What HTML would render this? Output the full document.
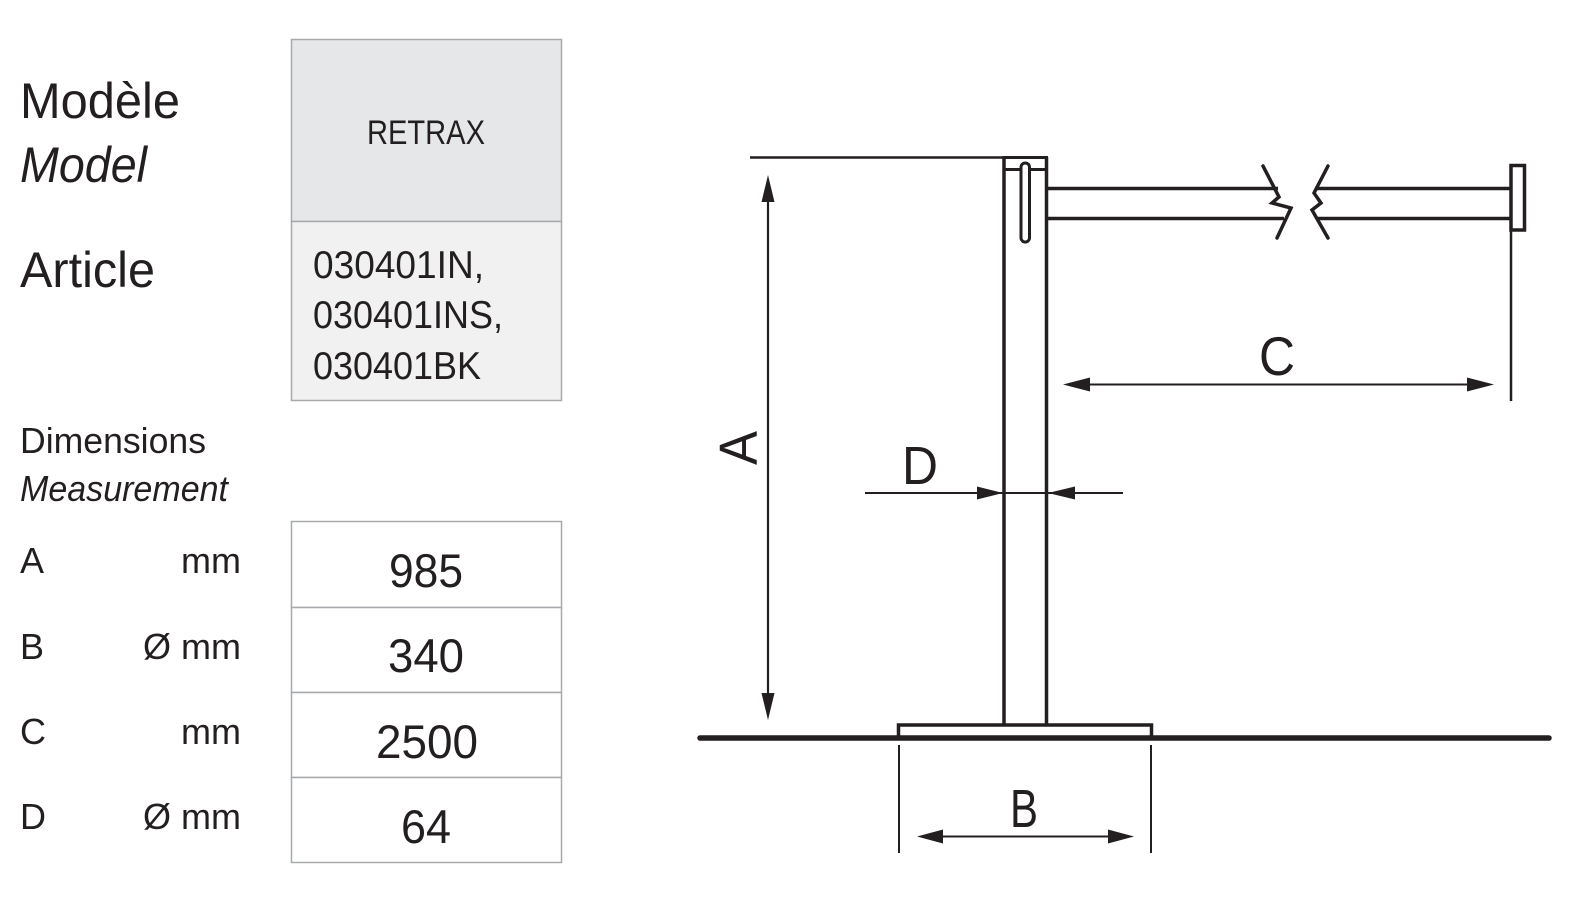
<!DOCTYPE html>
<html>
<head>
<meta charset="utf-8">
<style>
  html,body{margin:0;padding:0;background:#fff;}
  svg{display:block;}
  text{font-family:"Liberation Sans",sans-serif;fill:#231f20;}
</style>
</head>
<body>
<svg width="1570" height="898" viewBox="0 0 1570 898" xmlns="http://www.w3.org/2000/svg">
  <!-- Left labels -->
  <text x="20" y="118" font-size="50" textLength="160" lengthAdjust="spacingAndGlyphs">Modèle</text>
  <text x="20" y="182" font-size="50" font-style="italic" textLength="127" lengthAdjust="spacingAndGlyphs">Model</text>
  <text x="20" y="287" font-size="50" textLength="135" lengthAdjust="spacingAndGlyphs">Article</text>

  <!-- Model/Article box -->
  <rect x="291.5" y="39.5" width="270" height="182" fill="#e6e7e8" stroke="#a7a9ac" stroke-width="1.5"/>
  <rect x="291.5" y="221.5" width="270" height="179" fill="#f1f1f2" stroke="#a7a9ac" stroke-width="1.5"/>
  <text x="367" y="144" font-size="34" textLength="118" lengthAdjust="spacingAndGlyphs">RETRAX</text>
  <text x="313" y="278" font-size="39" textLength="171" lengthAdjust="spacingAndGlyphs">030401IN,</text>
  <text x="313" y="328" font-size="39" textLength="190" lengthAdjust="spacingAndGlyphs">030401INS,</text>
  <text x="313" y="379" font-size="39" textLength="168" lengthAdjust="spacingAndGlyphs">030401BK</text>

  <!-- Dimensions -->
  <text x="20" y="453" font-size="36" textLength="186" lengthAdjust="spacingAndGlyphs">Dimensions</text>
  <text x="20" y="501" font-size="36" font-style="italic" textLength="208" lengthAdjust="spacingAndGlyphs">Measurement</text>

  <!-- Dimension table -->
  <g fill="#fff" stroke="#a7a9ac" stroke-width="1.5">
    <rect x="291.5" y="521.5" width="270" height="86"/>
    <rect x="291.5" y="607.5" width="270" height="85"/>
    <rect x="291.5" y="692.5" width="270" height="85"/>
    <rect x="291.5" y="777.5" width="270" height="85"/>
  </g>

  <text x="20" y="573" font-size="36">A</text>
  <text x="20" y="659" font-size="36">B</text>
  <text x="20" y="744" font-size="36">C</text>
  <text x="20" y="829" font-size="36">D</text>

  <text x="241" y="573" font-size="36" text-anchor="end">mm</text>
  <text x="241" y="659" font-size="36" text-anchor="end">Ø mm</text>
  <text x="241" y="744" font-size="36" text-anchor="end">mm</text>
  <text x="241" y="829" font-size="36" text-anchor="end">Ø mm</text>

  <text x="426" y="587" font-size="47" text-anchor="middle" textLength="74" lengthAdjust="spacingAndGlyphs">985</text>
  <text x="426" y="672" font-size="47" text-anchor="middle" textLength="76" lengthAdjust="spacingAndGlyphs">340</text>
  <text x="427" y="758" font-size="47" text-anchor="middle" textLength="102" lengthAdjust="spacingAndGlyphs">2500</text>
  <text x="426" y="843" font-size="47" text-anchor="middle" textLength="50" lengthAdjust="spacingAndGlyphs">64</text>

  <!-- Drawing -->
  <g stroke="#231f20" fill="none" stroke-linecap="butt">
    <!-- ground line -->
    <line x1="700" y1="738" x2="1549" y2="738" stroke-width="5.5" stroke-linecap="round"/>
    <!-- base plate -->
    <polyline points="898.5,738 898.5,725 1151.5,725 1151.5,738" stroke-width="3.5"/>
    <!-- pole -->
    <line x1="1004" y1="157" x2="1004" y2="725" stroke-width="3.5"/>
    <line x1="1046.5" y1="157" x2="1046.5" y2="725" stroke-width="3.5"/>
    <!-- cap -->
    <line x1="1002.5" y1="157.5" x2="1048" y2="157.5" stroke-width="3"/>
    <line x1="1004" y1="169.5" x2="1046.5" y2="169.5" stroke-width="3"/>
    <!-- slot -->
    <rect x="1021" y="163" width="8.5" height="79" rx="4.25" stroke-width="3" fill="#fff"/>
    <!-- rails left -->
    <line x1="1046" y1="188.5" x2="1278" y2="188.5" stroke-width="3.5"/>
    <line x1="1046" y1="218.5" x2="1284" y2="218.5" stroke-width="3.5"/>
    <polyline points="1263,166 1279,197 1272,203 1291,208 1277,238" stroke-width="3.5" stroke-linejoin="miter" stroke-linecap="round"/>
    <!-- rails right -->
    <line x1="1315" y1="188.5" x2="1511" y2="188.5" stroke-width="3.5"/>
    <line x1="1317" y1="218.5" x2="1511" y2="218.5" stroke-width="3.5"/>
    <polyline points="1328,166 1314,193 1321,203 1312,210 1328,238" stroke-width="3.5" stroke-linejoin="miter" stroke-linecap="round"/>
    <!-- end cap -->
    <rect x="1511" y="165.5" width="13.5" height="64.5" stroke-width="3.5" fill="#fff"/>
    <!-- C extension line -->
    <line x1="1511" y1="230" x2="1511" y2="401" stroke-width="2.5"/>

    <!-- A reference line -->
    <line x1="750" y1="157.5" x2="1004" y2="157.5" stroke-width="2.5"/>
    <!-- A dimension -->
    <line x1="768" y1="195" x2="768" y2="700" stroke-width="2.2"/>
    <!-- C dimension -->
    <line x1="1080" y1="384.5" x2="1478" y2="384.5" stroke-width="2"/>
    <!-- D dimension -->
    <line x1="865" y1="493" x2="1123" y2="493" stroke-width="2"/>
    <!-- B extension lines -->
    <line x1="899" y1="745" x2="899" y2="853" stroke-width="2"/>
    <line x1="1151" y1="745" x2="1151" y2="853" stroke-width="2"/>
    <!-- B dimension -->
    <line x1="935" y1="836.5" x2="1115" y2="836.5" stroke-width="2"/>
  </g>

  <!-- Arrowheads -->
  <g fill="#231f20">
    <!-- A -->
    <polygon points="768,175 761.5,202 774.5,202"/>
    <polygon points="768,720 761.5,693 774.5,693"/>
    <!-- C -->
    <polygon points="1063,384.5 1090,377.5 1090,391.5"/>
    <polygon points="1494,384.5 1467,377.5 1467,391.5"/>
    <!-- D -->
    <polygon points="1003,493 977,486.5 977,499.5"/>
    <polygon points="1048,493 1075,486.5 1075,499.5"/>
    <!-- B -->
    <polygon points="917,836.5 943,829.5 943,843.5"/>
    <polygon points="1134,836.5 1108,829.5 1108,843.5"/>
  </g>

  <!-- Dimension letters -->
  <text x="1277" y="375" font-size="55" text-anchor="middle" textLength="36" lengthAdjust="spacingAndGlyphs">C</text>
  <text x="920" y="484" font-size="54" text-anchor="middle" textLength="36" lengthAdjust="spacingAndGlyphs">D</text>
  <text x="1024" y="827" font-size="54" text-anchor="middle" textLength="28" lengthAdjust="spacingAndGlyphs">B</text>
  <text x="0" y="0" font-size="54" text-anchor="middle" textLength="34" lengthAdjust="spacingAndGlyphs" transform="translate(757,448) rotate(-90)">A</text>
</svg>
</body>
</html>
